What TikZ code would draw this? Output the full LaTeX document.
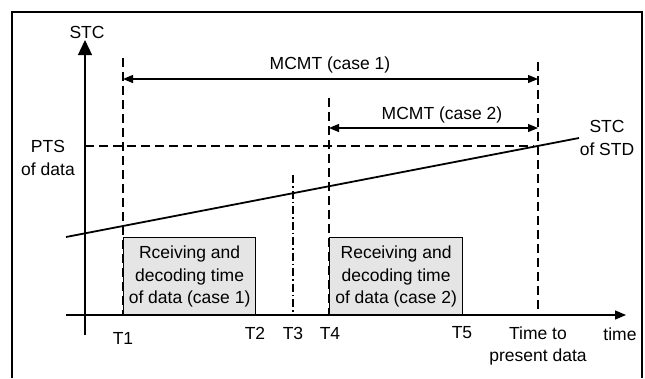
\documentclass[tikz,border=0pt]{standalone}
\usepackage{fontspec}
\setmainfont{Liberation Sans}
\usetikzlibrary{arrows.meta}
\tikzset{
  lbl/.style={font=\fontsize{17.5}{22.5}\selectfont, inner sep=0pt, align=center},
  guide/.style={line width=1.1pt, dash pattern=on 9pt off 5pt},
  dimarrow/.style={line width=1.2pt, {Triangle[length=10pt,width=8pt]}-{Triangle[length=10pt,width=8pt]}},
  boxstyle/.style={draw, line width=1.2pt, fill=black!10},
}
\begin{document}
\begin{tikzpicture}[x=1pt,y=-1pt]
\useasboundingbox (0,0) rectangle (645,378);
% frame
\draw[line width=1.3pt] (12,378) -- (12,12) -- (642,12) -- (642,378);
% boxes
\node[boxstyle, minimum width=132pt, minimum height=78pt, inner sep=0pt, anchor=north west] (b1) at (123,237) {};
\node[boxstyle, minimum width=133pt, minimum height=78pt, inner sep=0pt, anchor=north west] (b2) at (329,237) {};
\node[lbl] at (b1.center) {Rceiving and\\decoding time\\of data (case 1)};
\node[lbl] at (b2.center) {Receiving and\\decoding time\\of data (case 2)};
% axes
\coordinate (xa0) at (66,315);
\coordinate (xa1) at (626,315);
\coordinate (ya0) at (85,335);
\coordinate (ya1) at (85,40);
\draw[line width=1.3pt, -{Triangle[length=11pt,width=9pt]}] (xa0) -- (xa1);
\draw[line width=1.3pt, -{Triangle[length=15pt,width=14pt]}] (ya0) -- (ya1);
\node[lbl] (stc) at (87,32) {STC};
\node[lbl] (time) at (620,334) {time};
% guide lines
\coordinate (t1top) at (123,58);
\coordinate (t1bot) at (123,315);
\coordinate (t4top) at (329,98);
\coordinate (t4bot) at (329,315);
\coordinate (tptop) at (538,62);
\coordinate (tpbot) at (538,315);
\coordinate (t3top) at (293,175);
\coordinate (t3bot) at (293,315);
\draw[guide] (t1top) -- (t1bot);
\draw[guide] (t4top) -- (t4bot);
\draw[guide] (tptop) -- (tpbot);
\draw[line width=1.1pt, dash pattern=on 8pt off 3pt on 1.5pt off 3pt] (t3top) -- (t3bot);
\coordinate (pts0) at (85,146);
\coordinate (pts1) at (534,146);
\draw[guide] (pts0) -- (pts1);
% dimension arrows
\coordinate (m1a) at (123,79);
\coordinate (m1b) at (538,79);
\coordinate (m2a) at (329,128);
\coordinate (m2b) at (538,128);
\draw[dimarrow] (m1a) -- (m1b);
\draw[dimarrow] (m2a) -- (m2b);
\node[lbl] (mc1) at (330,65) {MCMT (case 1)};
\node[lbl] (mc2) at (442,115) {MCMT (case 2)};
% STC of STD line
\coordinate (std0) at (66,237);
\coordinate (std1) at (579,138);
\draw[line width=1.8pt] (std0) -- (std1);
\node[lbl] (stdl) at (607,138) {STC\\of STD};
\node[lbl] (ptsl) at (48,158) {PTS\\of data};
% time labels
\node[lbl] (T1) at (123,338) {T1};
\node[lbl] (T2) at (255,333) {T2};
\node[lbl] (T3) at (293,333) {T3};
\node[lbl] (T4) at (330,333) {T4};
\node[lbl] (T5) at (462,333) {T5};
\node[lbl] (tp) at (538,346) {Time to\\present data};
\end{tikzpicture}
\end{document}
